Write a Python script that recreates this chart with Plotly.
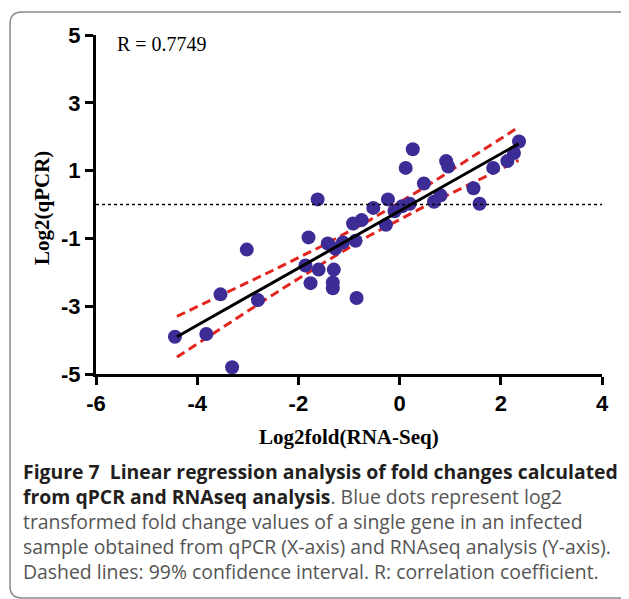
import plotly.graph_objects as go

# log2 fold change per gene
rna_seq = [-4.44, -3.82, -3.31, -3.54, -2.80, -3.02, -1.80, -1.62, -1.86, -1.76,
           -1.60, -1.42, -1.27, -1.30, -1.32, -1.32, -1.12, -0.92, -0.87, -0.75,
           -0.52, -0.27, -0.23, -0.10, 0.05, 0.20, 0.12, 0.26, 0.48, 0.68,
           0.81, 0.92, 0.96, 1.46, 1.58, 1.85, 2.13, 2.26, 2.36, -0.85]
qpcr = [-3.90, -3.82, -4.80, -2.65, -2.82, -1.33, -0.97, 0.15, -1.80, -2.32,
        -1.92, -1.15, -1.30, -1.92, -2.30, -2.47, -1.12, -0.56, -1.07, -0.46,
        -0.10, -0.60, 0.15, -0.20, -0.05, 0.02, 1.08, 1.63, 0.62, 0.08,
        0.27, 1.28, 1.12, 0.48, 0.02, 1.08, 1.28, 1.52, 1.86, -2.76]

# regression line and 99% confidence band
fit_x = [-4.4, -3.5, -2.5, -1.5, -0.6, 0.5, 1.5, 2.35]
fit_y = [-3.90, -3.14, -2.30, -1.46, -0.70, 0.23, 1.08, 1.79]
ci_upper = [-3.30, -2.66, -1.94, -1.20, -0.47, 0.51, 1.46, 2.28]
ci_lower = [-4.50, -3.62, -2.66, -1.72, -0.92, -0.05, 0.69, 1.30]

x_ticks = [-6, -4, -2, 0, 2, 4]
y_ticks = [-5, -3, -1, 1, 3, 5]

caption = [
    ("<b>Figure 7  Linear regression analysis of fold changes calculated</b>", "#231f20"),
    ("<b>from qPCR and RNAseq analysis</b><span style='color:#555'>. Blue dots represent log2</span>", "#231f20"),
    ("transformed fold change values of a single gene in an infected", "#555555"),
    ("sample obtained from qPCR (X-axis) and RNAseq analysis (Y-axis).", "#555555"),
    ("Dashed lines: 99% confidence interval. R: correlation coefficient.", "#555555"),
]

# the page body adds an 8px margin, so the figure is drawn 8px smaller
OFF = 8
W, H = 629 - OFF, 599 - OFF
L, R, T, B = 96 - OFF, 27, 35 - OFF, 225


def px(x):
    # screen x pixel -> paper coordinate
    return (x - OFF - L) / (W - L - R)


def py(y):
    # screen y pixel -> paper coordinate
    return (H - B - (y - OFF)) / (H - T - B)


fig = go.Figure()

fig.add_trace(go.Scatter(x=fit_x, y=ci_upper, mode="lines",
                         line=dict(color="#e2261f", width=3, dash="9px,5px")))
fig.add_trace(go.Scatter(x=fit_x, y=ci_lower, mode="lines",
                         line=dict(color="#e2261f", width=3, dash="9px,5px")))
fig.add_trace(go.Scatter(x=rna_seq, y=qpcr, mode="markers",
                         marker=dict(color="#3b2c96", size=14)))
fig.add_trace(go.Scatter(x=[fit_x[0], fit_x[-1]], y=[fit_y[0], fit_y[-1]], mode="lines",
                         line=dict(color="black", width=3)))

# dotted zero line
fig.add_shape(type="line", xref="paper", x0=0, x1=1, yref="y", y0=0, y1=0,
              line=dict(color="black", width=1.3, dash="dot"))

# rounded caption box
r = 12
path = (f"M {px(10)} {py(12 + r)} Q {px(10)} {py(12)} {px(10 + r)} {py(12)} "
        f"L {px(660)} {py(12)} L {px(660)} {py(598)} L {px(10 + r)} {py(598)} "
        f"Q {px(10)} {py(598)} {px(10)} {py(598 - r)} Z")
fig.add_shape(type="path", xref="paper", yref="paper", path=path,
              line=dict(color="#8a8a8a", width=1.5), layer="below")

fig.add_annotation(x=-5.62, y=4.73, text="R = 0.7749", showarrow=False, xanchor="left",
                   font=dict(family="Liberation Serif", size=20, color="black"))

title_font = dict(family="Liberation Serif", size=21, color="black", weight="bold")
fig.add_annotation(xref="paper", yref="paper", x=px(42), y=py(208), text="Log2(qPCR)",
                   textangle=-90, showarrow=False, xanchor="center", yanchor="middle",
                   font=title_font)
fig.add_annotation(xref="paper", yref="paper", x=px(349), y=py(437), text="Log2fold(RNA-Seq)",
                   showarrow=False, xanchor="center", yanchor="middle", font=title_font)

for i, (txt, col) in enumerate(caption):
    fig.add_annotation(xref="paper", yref="paper", x=px(21), y=py(471 + 25 * i),
                       text=txt, showarrow=False, xanchor="left", yanchor="middle",
                       font=dict(family="Open Sans", size=19.4, color=col))

axis_font = dict(family="Liberation Sans", size=22, color="black", weight="bold")

fig.update_xaxes(range=[-6, 4], tickvals=x_ticks, ticktext=[str(v) for v in x_ticks],
                 showline=True, linecolor="black", linewidth=3, ticks="outside",
                 ticklen=8, tickwidth=2.5, tickcolor="black",
                 showgrid=False, zeroline=False, tickfont=axis_font)
fig.update_yaxes(range=[-5, 5], tickvals=y_ticks, ticktext=[str(v) for v in y_ticks],
                 showline=True, linecolor="black", linewidth=3, ticks="outside",
                 ticklen=8, tickwidth=2.5, tickcolor="black",
                 showgrid=False, zeroline=False, tickfont=axis_font)

fig.update_layout(width=W, height=H, margin=dict(l=L, r=R, t=T, b=B),
                  plot_bgcolor="white", paper_bgcolor="white", showlegend=False)

fig.write_html("out.html")
